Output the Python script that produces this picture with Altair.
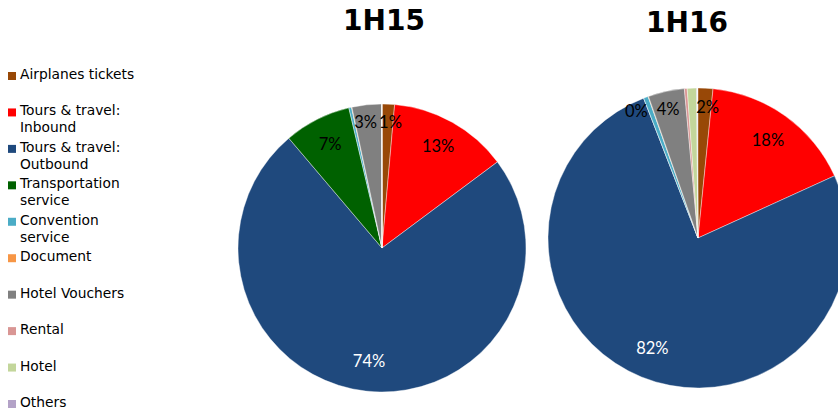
import altair as alt
import pandas as pd

categories = ["Airplanes tickets", "Tours & travel: Inbound", "Tours & travel: Outbound",
              "Transportation service", "Convention service", "Document",
              "Hotel Vouchers", "Rental", "Hotel", "Others"]
legend_labels = ["Airplanes tickets", "Tours & travel:\nInbound", "Tours & travel:\nOutbound",
                 "Transportation\nservice", "Convention\nservice", "Document",
                 "Hotel Vouchers", "Rental", "Hotel", "Others"]
colors = ["#984807", "#FF0000", "#1F497D", "#006100", "#4BACC6", "#F79646",
          "#808080", "#D99694", "#C3D69B", "#B3A2C7"]
periods = ["1H15", "1H16"]
share_1h15 = [1.4, 13.4, 74.0, 7.5, 0.3, 0.05, 3.3, 0.02, 0.02, 0.01]
share_1h16 = [1.6, 16.6, 75.9, 0.0, 0.5, 0.05, 3.9, 0.3, 1.0, 0.05]
labels_1h15 = ["1%", "13%", "74%", "7%", "", "", "3%", "", "", ""]
labels_1h16 = ["2%", "18%", "82%", "", "0%", "", "4%", "", "", ""]

rows = []
for p, vals, labs in [("1H15", share_1h15, labels_1h15), ("1H16", share_1h16, labels_1h16)]:
    for i, (c, v, l) in enumerate(zip(categories, vals, labs)):
        rows.append({"period": p, "cat": c, "idx": i, "value": v, "label": l})
df = pd.DataFrame(rows)
leg = pd.DataFrame({"cat": categories, "text": legend_labels, "idx": list(range(len(categories)))})
titles = pd.DataFrame({"period": periods})

color_scale = alt.Scale(domain=categories, range=colors)


def pie(period, cx, cy, r):
    base = alt.Chart(df).transform_filter(alt.datum.period == period)
    arc = base.mark_arc(radius=r, stroke="#ffffff", strokeWidth=0.4, clip=True).encode(
        theta=alt.Theta("value:Q", stack=True),
        order=alt.Order("idx:O"),
        color=alt.Color("cat:N", scale=color_scale, legend=None),
        x=alt.value(cx), y=alt.value(cy),
    )
    lab = base.transform_joinaggregate(
        total="sum(value)"
    ).transform_window(
        cum="sum(value)", sort=[alt.SortField("idx", order="ascending")],
        frame=[None, 0]
    ).transform_calculate(
        mid="(datum.cum - datum.value / 2) / datum.total * 2 * PI",
        lr=f"datum.value < 1 ? {r * 0.93} : datum.value < 5 ? {r * 0.87} : {r * 0.8}"
    ).transform_filter(alt.datum.label != "")
    enc = dict(
        theta=alt.Theta("mid:Q", scale=None, stack=None),
        radius=alt.Radius("lr:Q", scale=None),
        text="label:N",
        color=alt.condition(alt.datum.idx == 2, alt.value("#ffffff"), alt.value("#000000")),
        x=alt.value(cx), y=alt.value(cy),
    )
    style = dict(font="Lato", fontSize=16.5, align="center", baseline="middle")
    big = lab.transform_filter(alt.datum.value >= 5).mark_text(**style).encode(**enc)
    small_r = lab.transform_filter(
        (alt.datum.value >= 1) & (alt.datum.value < 5) & (alt.datum.mid < 3.1416)
    ).mark_text(dx=3, **style).encode(**enc)
    small_l = lab.transform_filter(
        (alt.datum.value >= 1) & (alt.datum.value < 5) & (alt.datum.mid >= 3.1416)
    ).mark_text(dx=-3, **style).encode(**enc)
    tiny = lab.transform_filter(alt.datum.value < 1).mark_text(
        dx=-14, dy=5, **style
    ).encode(**enc)
    return [arc, big, small_r, small_l, tiny]


leg_y = alt.Y("cat:N", sort=categories, scale=alt.Scale(range=[76, 404], padding=0), axis=None)
legend_sym = alt.Chart(leg).mark_square(size=64, opacity=1).encode(
    x=alt.value(12),
    y=leg_y,
    color=alt.Color("cat:N", scale=color_scale, legend=None),
)
legend_txt = alt.Chart(leg).mark_text(font="DejaVu Sans", fontSize=13.8, align="left",
                                      baseline="top", dy=-8, lineBreak="\n",
                                      lineHeight=17, color="#000000").encode(
    x=alt.value(20),
    y=leg_y,
    text="text:N",
)

title1 = alt.Chart(titles).transform_filter(alt.datum.period == "1H15").mark_text(
    font="DejaVu Sans", fontWeight="bold", fontSize=28, baseline="middle", align="center"
).encode(text="period:N", x=alt.value(384), y=alt.value(22))
title2 = alt.Chart(titles).transform_filter(alt.datum.period == "1H16").mark_text(
    font="DejaVu Sans", fontWeight="bold", fontSize=28, baseline="middle", align="center"
).encode(text="period:N", x=alt.value(687), y=alt.value(24))

chart = alt.layer(
    *pie("1H15", 382, 248, 144),
    *pie("1H16", 698, 238, 150),
    legend_sym, legend_txt, title1, title2,
).properties(width=838, height=414, padding=0, autosize="none").configure_view(stroke=None)

chart.save("out.html", embed_options={"renderer": "svg", "actions": False})
